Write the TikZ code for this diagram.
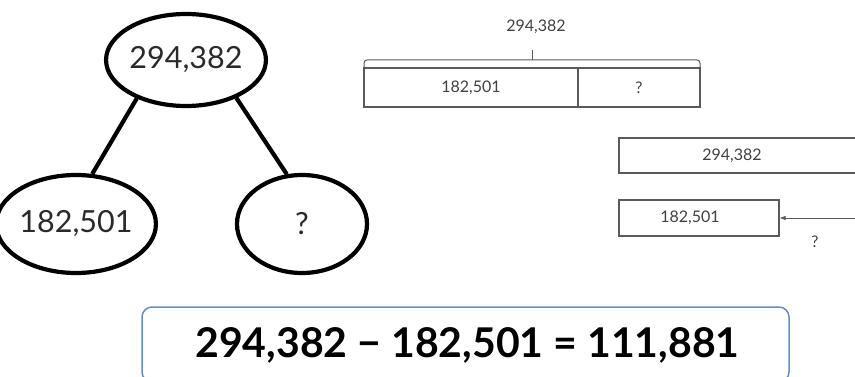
\documentclass[tikz,border=0pt]{standalone}
\usepackage{fontspec}
\setmainfont{Lato}
\newfontfamily\lightfont{Lato}
\usetikzlibrary{shapes.geometric,arrows.meta}
\definecolor{ink}{HTML}{2A2A2A}
\definecolor{barline}{HTML}{5A5A5A}
\definecolor{bartext}{HTML}{404040}
\definecolor{boxblue}{HTML}{6A8DB8}
\tikzset{
  bubble/.style={ellipse,draw=black,line width=4.2pt,inner sep=0pt,text=ink,font=\lightfont\fontsize{30.5}{30.5}\selectfont},
  link/.style={line width=4.2pt,draw=black},
  barbox/.style={rectangle,draw=barline,line width=1.1pt,inner sep=0pt,text=bartext,font=\lightfont\fontsize{16}{16}\selectfont},
  bartxt/.style={inner sep=0pt,text=bartext,font=\lightfont\fontsize{16}{16}\selectfont},
  eqbox/.style={rectangle,rounded corners=10pt,draw=boxblue,line width=1.5pt,inner sep=0pt},
}
\begin{document}
\begin{tikzpicture}[x=1pt,y=-1pt]
\useasboundingbox (0,0) rectangle (855,377);
% number bond
\node[bubble,minimum width=128pt,minimum height=92pt] (top) at (186,60) {294,382};
\node[bubble,minimum width=132pt,minimum height=98pt] (left) at (76,224) {182,501};
\node[bubble,minimum width=130pt,minimum height=98pt] (right) at (302,224) {?};
\draw[link] (top.218) -- (left.72);
\draw[link] (top.323) -- (right.107);
% bar model
\node[bartxt] (total) at (536,27) {294,382};
\draw[barline,line width=1pt,rounded corners=3pt] (364,69) -- (364,60) -- (700,60) -- (700,69);
\coordinate (tick) at (532,60);
\draw[barline,line width=1pt] (tick) -- ++(0,-10);
\node[barbox,minimum width=214pt,minimum height=39pt] (b1) at (471,87.5) {182,501};
\node[barbox,minimum width=122pt,minimum height=39pt] (b2) at (639,87.5) {?};
% comparison bars
\node[barbox,minimum width=260pt,minimum height=35pt] (r1) at (749,155.5) {};
\node[bartxt] (r1t) at (732,156) {294,382};
\node[barbox,minimum width=160pt,minimum height=36pt] (r2) at (699,218) {};
\node[bartxt] (r2t) at (690,218) {182,501};
\coordinate (aend) at (880,218);
\draw[barline,line width=0.8pt,{Latex[length=6pt,width=4.5pt]}-{Latex[length=6pt,width=4.5pt]}] (r2.east) -- (aend);
\node[bartxt] (q) at (815,242) {?};
% equation
\node[eqbox,minimum width=647pt,minimum height=75pt] (eq) at (465.5,344.5) {};
\node[inner sep=0pt,font=\bfseries\fontsize{41}{41}\selectfont,text=black] (eqt) at (467.5,345) {294,382 \char"2212{} 182,501 = 111,881};
\end{tikzpicture}
\end{document}
